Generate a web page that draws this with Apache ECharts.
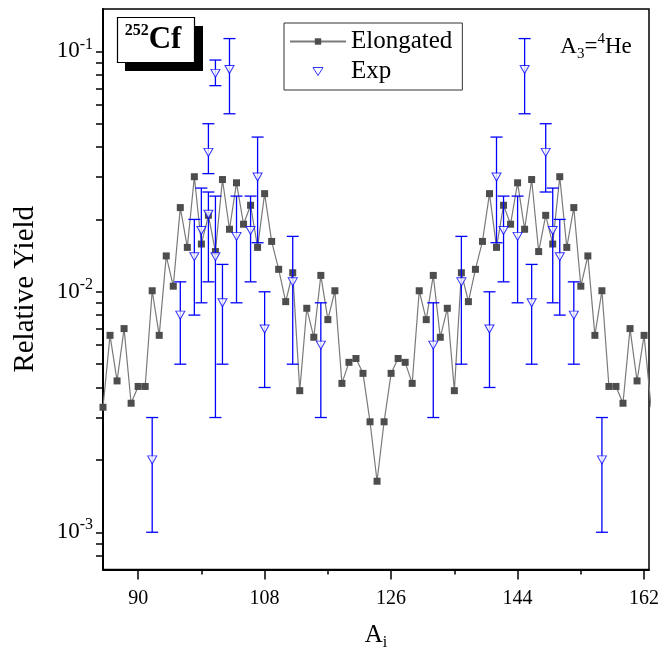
<!DOCTYPE html>
<html>
<head>
<meta charset="utf-8">
<script src="https://cdn.jsdelivr.net/npm/echarts@6/dist/echarts.min.js"></script>
<style>
  html, body { margin: 0; padding: 0; background: #fff; }
  #chart { width: 658px; height: 652px; }
</style>
</head>
<body>
<div id="chart"></div>
<script>
// fragment mass number A_i
const massNumbers = [
  85, 86, 87, 88, 89, 90, 91, 92, 93, 94, 95, 96, 97, 98, 99, 100, 101, 102, 103, 104,
  105, 106, 107, 108, 109, 110, 111, 112, 113, 114, 115, 116, 117, 118, 119, 120, 121, 122, 123, 124,
  125, 126, 127, 128, 129, 130, 131, 132, 133, 134, 135, 136, 137, 138, 139, 140, 141, 142, 143, 144,
  145, 146, 147, 148, 149, 150, 151, 152, 153, 154, 155, 156, 157, 158, 159, 160, 161, 162, 163
];
// elongated configuration yields
const elongatedYield = [
  0.00331, 0.00659, 0.00426, 0.00703, 0.00344, 0.00404, 0.00404, 0.0101, 0.00659, 0.0141,
  0.01055, 0.0224, 0.0153, 0.0301, 0.0158, 0.0208, 0.0147, 0.0293, 0.0182, 0.0284,
  0.0191, 0.0229, 0.0153, 0.0256, 0.0162, 0.0124, 0.0091, 0.0120, 0.00388, 0.00854,
  0.00647, 0.0117, 0.00766, 0.0101, 0.00416, 0.00509, 0.00528, 0.00458, 0.00288, 0.00163,
  0.00288, 0.00458, 0.00528, 0.00509, 0.00416, 0.0101, 0.00766, 0.0117, 0.00647, 0.00854,
  0.00388, 0.0120, 0.0091, 0.0124, 0.0162, 0.0256, 0.0153, 0.0229, 0.0191, 0.0284,
  0.0182, 0.0293, 0.0147, 0.0208, 0.0158, 0.0301, 0.0153, 0.0224, 0.01055, 0.0141,
  0.00659, 0.0101, 0.00404, 0.00404, 0.00344, 0.00703, 0.00426, 0.00659, 0.00331
];
// experimental points with error bars
const expMass  = [92, 96, 98, 99, 100, 100, 101, 101, 102, 103, 104, 106, 107, 108, 112, 116,
                  132, 136, 140, 141, 142, 144, 145, 146, 148, 149, 150, 152, 156];
const expYield = [0.002, 0.008, 0.014, 0.018, 0.038, 0.021, 0.081, 0.014, 0.009, 0.084, 0.017, 0.018, 0.030, 0.007, 0.011, 0.006,
                  0.006, 0.011, 0.007, 0.030, 0.018, 0.017, 0.084, 0.009, 0.038, 0.018, 0.014, 0.008, 0.002];
const expLow   = [0.001, 0.005, 0.008, 0.009, 0.031, 0.011, 0.072, 0.003, 0.005, 0.055, 0.009, 0.011, 0.016, 0.004, 0.005, 0.003,
                  0.003, 0.005, 0.004, 0.016, 0.011, 0.009, 0.055, 0.005, 0.026, 0.009, 0.008, 0.005, 0.001];
const expHigh  = [0.003, 0.011, 0.020, 0.027, 0.050, 0.026, 0.092, 0.025, 0.013, 0.113, 0.025, 0.025, 0.044, 0.010, 0.017, 0.009,
                  0.009, 0.017, 0.010, 0.044, 0.025, 0.025, 0.113, 0.013, 0.050, 0.027, 0.020, 0.011, 0.003];

const xMajorTicks = [90, 108, 126, 144, 162];
const xMinorTicks = [99, 117, 135, 153];
const yLabelTicks = [0.001, 0.01, 0.1];
const yTicks = [0.0008, 0.0009, 0.001, 0.002, 0.003, 0.004, 0.005, 0.006, 0.007, 0.008, 0.009,
                0.01, 0.02, 0.03, 0.04, 0.05, 0.06, 0.07, 0.08, 0.09, 0.1];

const serif = "'Liberation Serif', 'Times New Roman', serif";
const blue = '#0000ff';

const chart = echarts.init(document.getElementById('chart'));

function barStyle() {
  return { stroke: blue, lineWidth: 1.3 };
}

function renderErrorBar(params, api) {
  const x = api.value(0);
  const lo = api.coord([x, api.value(1)]);
  const hi = api.coord([x, api.value(2)]);
  const cx = lo[0];
  const half = 6;
  return {
    type: 'group',
    children: [
      { type: 'line', shape: { x1: cx, y1: hi[1], x2: cx, y2: lo[1] }, style: barStyle() },
      { type: 'line', shape: { x1: cx - half, y1: hi[1], x2: cx + half, y2: hi[1] }, style: barStyle() },
      { type: 'line', shape: { x1: cx - half, y1: lo[1], x2: cx + half, y2: lo[1] }, style: barStyle() }
    ]
  };
}

const xBase = {
  type: 'value',
  min: 85,
  max: 162.7,
  splitLine: { show: false }
};

chart.setOption({
  animation: false,
  grid: {
    left: 103, right: 9, top: 9, bottom: 82.5,
    outerBoundsMode: 'none',
    show: true, borderColor: '#000', borderWidth: 1.5
  },
  legend: {
    left: 284, top: 23,
    orient: 'vertical',
    padding: [6, 10, 6, 5],
    itemGap: 5,
    itemWidth: 56, itemHeight: 8,
    borderColor: '#333', borderWidth: 1,
    textStyle: { fontFamily: serif, fontSize: 25, color: '#000' },
    data: [
      { name: 'Elongated' },
      {
        name: 'Exp',
        icon: 'path://M0,0 L10,0 L5,8 Z',
        itemStyle: { color: '#fff', borderColor: blue, borderWidth: 1 }
      }
    ]
  },
  xAxis: [
    {
      ...xBase,
      name: '{m|A}{sub|i}',
      nameLocation: 'middle',
      nameGap: 51,
      nameTextStyle: {
        rich: {
          m: { fontFamily: serif, fontSize: 25, lineHeight: 30, color: '#000' },
          sub: { fontFamily: serif, fontSize: 16, lineHeight: 16, verticalAlign: 'bottom', color: '#000' }
        }
      },
      axisLine: { lineStyle: { color: '#000', width: 2 } },
      axisTick: { customValues: xMajorTicks, length: 10, lineStyle: { color: '#000', width: 1.5 } },
      axisLabel: { customValues: xMajorTicks, margin: 19, fontFamily: serif, fontSize: 20, color: '#000' }
    },
    {
      ...xBase,
      position: 'bottom',
      axisLine: { show: false },
      axisTick: { customValues: xMinorTicks, length: 5, lineStyle: { color: '#000', width: 1.5 } },
      axisLabel: { show: false }
    }
  ],
  yAxis: {
    type: 'log',
    logBase: 10,
    min: 0.0007,
    max: 0.15,
    name: 'Relative Yield',
    nameLocation: 'middle',
    nameGap: 63,
    nameTextStyle: { fontFamily: serif, fontSize: 29, color: '#000' },
    splitLine: { show: false },
    axisLine: { show: true, lineStyle: { color: '#000', width: 2 } },
    axisTick: { customValues: yTicks, length: 7, lineStyle: { color: '#000', width: 1.5 } },
    axisLabel: {
      customValues: yLabelTicks,
      margin: 10,
      formatter: (v) => '{m|10}{sup|' + Math.round(Math.log10(v)) + '}',
      rich: {
        m: { fontFamily: serif, fontSize: 23, lineHeight: 30, color: '#000' },
        sup: { fontFamily: serif, fontSize: 16, lineHeight: 16, verticalAlign: 'top', color: '#000' }
      }
    }
  },
  series: [
    {
      name: 'Elongated',
      type: 'line',
      data: massNumbers.map((a, i) => [a, elongatedYield[i]]),
      symbol: 'rect',
      symbolSize: 7,
      lineStyle: { color: '#7a7a7a', width: 1.2 },
      itemStyle: { color: '#4d4d4d' },
      z: 2
    },
    {
      name: 'ExpErr',
      type: 'custom',
      renderItem: renderErrorBar,
      data: expMass.map((a, i) => [a, expLow[i], expHigh[i]]),
      encode: { x: 0, y: [1, 2] },
      itemStyle: { color: blue },
      z: 3
    },
    {
      name: 'Exp',
      type: 'scatter',
      data: expMass.map((a, i) => [a, expYield[i]]),
      symbol: 'triangle',
      symbolRotate: 180,
      symbolSize: [9, 8],
      itemStyle: { color: '#fff', borderColor: blue, borderWidth: 1 },
      z: 4
    }
  ],
  graphic: [
    { type: 'rect', shape: { x: 125, y: 26, width: 78, height: 45 }, style: { fill: '#000' } },
    { type: 'rect', shape: { x: 117.5, y: 17.5, width: 77, height: 45 }, style: { fill: '#fff', stroke: '#000', lineWidth: 1.2 } },
    {
      type: 'text', x: 153, y: 40,
      style: {
        text: '{sup|252}{big|Cf}',
        align: 'center', verticalAlign: 'middle',
        rich: {
          sup: { fontFamily: serif, fontSize: 16, fontWeight: 'bold', lineHeight: 16, verticalAlign: 'top', fill: '#000' },
          big: { fontFamily: serif, fontSize: 31, fontWeight: 'bold', lineHeight: 34, fill: '#000' }
        }
      }
    },
    {
      type: 'text', x: 596, y: 47,
      style: {
        text: '{m|A}{sub|3}{m|=}{sup|4}{m|He}',
        align: 'center', verticalAlign: 'middle',
        rich: {
          m: { fontFamily: serif, fontSize: 23, lineHeight: 30, fill: '#000' },
          sub: { fontFamily: serif, fontSize: 15, lineHeight: 15, verticalAlign: 'bottom', fill: '#000' },
          sup: { fontFamily: serif, fontSize: 15, lineHeight: 15, verticalAlign: 'top', fill: '#000' }
        }
      }
    }
  ]
});
</script>
</body>
</html>
